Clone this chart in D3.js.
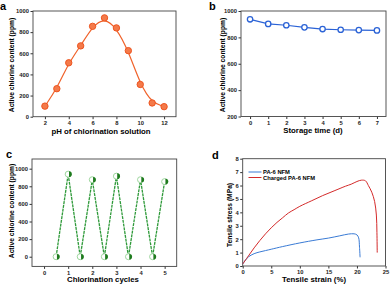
<!DOCTYPE html>
<html>
<head>
<meta charset="utf-8">
<script src="https://cdn.jsdelivr.net/npm/d3@7"></script>
<style>
  body { margin: 0; background: #fff; }
  svg { font-family: "Liberation Sans", Arial, sans-serif; font-weight: bold; }
  .tick text { font-size: 5.8px; fill: #222; }
  .tick line { stroke: #333; }
</style>
</head>
<body>
<div id="chart"></div>
<script>

// 1. Data

const phValues = [2, 3, 4, 5, 6, 7, 8, 9, 10, 11, 12]
const phChlorine = [100, 265, 510, 670, 855, 935, 840, 625, 305, 130, 95]

const storageDays = [0, 1, 2, 3, 4, 5, 6, 7]
const storageChlorine = [937, 902, 892, 876, 863, 858, 855, 853]

const cycleSteps = [0.5, 1, 1.5, 2, 2.5, 3, 3.5, 4, 4.5, 5]
const cycleChlorine = [0, 938, 0, 875, 0, 915, 0, 875, 0, 853]

const pa6Strain = [0, 0.5, 1, 2, 3, 4, 5, 7, 10, 13, 15, 17, 18.5, 19.5, 20, 20.3, 20.45, 20.55]
const pa6Stress = [0.15, 0.45, 0.68, 0.92, 1.05, 1.15, 1.25, 1.45, 1.72, 1.95, 2.08, 2.25, 2.38, 2.4, 2.32, 2.1, 1.4, 0.65]

const chargedStrain = [0, 1, 2, 3, 4, 5, 6, 7, 8, 9, 10, 12, 14, 16, 18, 19, 20, 20.8, 21.5, 22, 22.6, 23.1, 23.4, 23.5, 23.55]
const chargedStress = [0.15, 0.75, 1.35, 1.9, 2.4, 2.85, 3.25, 3.6, 3.95, 4.2, 4.45, 4.85, 5.25, 5.6, 5.95, 6.1, 6.3, 6.4, 6.35, 6.0, 5.5, 4.8, 3.8, 2.5, 1.0]

const legendLabels = ["PA-6 NFM", "Charged PA-6 NFM"]

// 2. Canvas

const svg = d3.select("#chart")
  .append("svg")
    .attr("width", 392)
    .attr("height", 286)

const fmt = d3.format("d")

function panel(opts) {
  const x = d3.scaleLinear().domain(opts.xDomain).range(opts.xRange)
  const y = d3.scaleLinear().domain(opts.yDomain).range(opts.yRange)
  const g = svg.append("g")

  g.append("g")
      .attr("transform", `translate(0,${opts.yRange[0]})`)
      .call(d3.axisBottom(x).tickValues(opts.xTicks).tickFormat(fmt).tickSize(2.5).tickPadding(1.8))
      .call(a => a.select(".domain").remove())

  g.append("g")
      .attr("transform", `translate(${opts.xRange[0]},0)`)
      .call(d3.axisLeft(y).tickValues(opts.yTicks).tickFormat(fmt).tickSize(2.5).tickPadding(1.5))
      .call(a => a.select(".domain").remove())

  g.append("rect")
      .attr("x", opts.xRange[0])
      .attr("y", opts.yRange[1])
      .attr("width", opts.xRange[1] - opts.xRange[0])
      .attr("height", opts.yRange[0] - opts.yRange[1])
      .attr("fill", "none")
      .attr("stroke", "#444")
      .attr("stroke-width", 0.9)

  g.append("text")
      .attr("x", opts.xLabelPos[0])
      .attr("y", opts.xLabelPos[1])
      .attr("text-anchor", "middle")
      .style("font-size", "7.8px")
      .text(opts.xLabel)

  g.append("text")
      .attr("transform", `translate(${opts.yLabelPos[0]},${opts.yLabelPos[1]}) rotate(-90)`)
      .attr("text-anchor", "middle")
      .style("font-size", "6.7px")
      .text(opts.yLabel)

  g.append("text")
      .attr("x", opts.letterPos[0])
      .attr("y", opts.letterPos[1])
      .style("font-size", "11px")
      .text(opts.letter)

  return {g, x, y}
}

// 3. Panel a

const pa = panel({
  xDomain: [1, 13], xRange: [33, 176], xTicks: [2, 4, 6, 8, 10, 12],
  yDomain: [0, 1000], yRange: [116.7, 11], yTicks: [0, 200, 400, 600, 800, 1000],
  xLabel: "pH of chlorination solution", xLabelPos: [101, 133.5],
  yLabel: "Active chlorine content (ppm)", yLabelPos: [13.5, 65],
  letter: "a", letterPos: [0, 9.5],
})

pa.g.append("path")
    .datum(phValues.map((d, i) => [d, phChlorine[i]]))
    .attr("fill", "none")
    .attr("stroke", "#f0622a")
    .attr("stroke-width", 1.2)
    .attr("d", d3.line().x(d => pa.x(d[0])).y(d => pa.y(d[1])).curve(d3.curveBasis))

pa.g.selectAll(".pt-a")
  .data(phValues)
  .enter().append("circle")
    .attr("cx", d => pa.x(d))
    .attr("cy", (d, i) => pa.y(phChlorine[i]))
    .attr("r", 3.2)
    .attr("fill", "#f47a4a")
    .attr("stroke", "#ee5520")
    .attr("stroke-width", 1)

// 4. Panel b

const pb = panel({
  xDomain: [-0.5, 7.5], xRange: [241, 386], xTicks: storageDays,
  yDomain: [200, 1000], yRange: [116.5, 11], yTicks: [200, 400, 600, 800, 1000],
  xLabel: "Storage time (d)", xLabelPos: [313, 132.5],
  yLabel: "Active chlorine content (ppm)", yLabelPos: [224.5, 65],
  letter: "b", letterPos: [209, 10],
})

pb.g.append("path")
    .datum(storageDays.map((d, i) => [d, storageChlorine[i]]))
    .attr("fill", "none")
    .attr("stroke", "#2a62d6")
    .attr("stroke-width", 1.2)
    .attr("d", d3.line().x(d => pb.x(d[0])).y(d => pb.y(d[1])))

pb.g.selectAll(".pt-b")
  .data(storageDays)
  .enter().append("circle")
    .attr("cx", d => pb.x(d))
    .attr("cy", (d, i) => pb.y(storageChlorine[i]))
    .attr("r", 2.7)
    .attr("fill", "#fff")
    .attr("stroke", "#2a62d6")
    .attr("stroke-width", 1.3)

// 5. Panel c

const pc = panel({
  xDomain: [-0.5, 5.5], xRange: [32, 176.7], xTicks: [0, 1, 2, 3, 4, 5],
  yDomain: [-110, 1110], yRange: [266.4, 159], yTicks: [0, 200, 400, 600, 800, 1000],
  xLabel: "Chlorination cycles", xLabelPos: [103, 281.5],
  yLabel: "Active chlorine content (ppm)", yLabelPos: [13.5, 211],
  letter: "c", letterPos: [6, 158],
})

pc.g.append("path")
    .datum(cycleSteps.map((d, i) => [d, cycleChlorine[i]]))
    .attr("fill", "none")
    .attr("stroke", "#2f9a3a")
    .attr("stroke-width", 1.3)
    .attr("stroke-dasharray", "3,0.8")
    .attr("d", d3.line().x(d => pc.x(d[0])).y(d => pc.y(d[1])))

const cMarks = pc.g.selectAll(".pt-c")
  .data(cycleSteps)
  .enter().append("g")
    .attr("transform", (d, i) => `translate(${pc.x(d)},${pc.y(cycleChlorine[i])})`)

cMarks.append("circle")
    .attr("r", 3)
    .attr("fill", "#fff")
    .attr("stroke", "#9ed69e")
    .attr("stroke-width", 1)

cMarks.append("path")
    .attr("d", d3.arc().innerRadius(0).outerRadius(2.8).startAngle(0).endAngle(Math.PI))
    .attr("transform", "translate(0.8,0)")
    .attr("fill", "#1e7a1e")

// 6. Panel d

const curveLine = d3.line().x(d => pd.x(d[0])).y(d => pd.y(d[1])).curve(d3.curveCatmullRom)

const pd = panel({
  xDomain: [0, 25], xRange: [242.7, 385.5], xTicks: [0, 5, 10, 15, 20, 25],
  yDomain: [0, 8], yRange: [266, 158.7], yTicks: d3.range(0, 9),
  xLabel: "Tensile strain (%)", xLabelPos: [314, 282],
  yLabel: "Tensile stress (MPa)", yLabelPos: [231.5, 215],
  letter: "d", letterPos: [212, 159],
})

pd.g.append("path")
    .datum(pa6Strain.map((d, i) => [d, pa6Stress[i]]))
    .attr("fill", "none")
    .attr("stroke", "#3a7bd5")
    .attr("stroke-width", 1)
    .attr("d", curveLine)

pd.g.append("path")
    .datum(chargedStrain.map((d, i) => [d, chargedStress[i]]))
    .attr("fill", "none")
    .attr("stroke", "#d42a2a")
    .attr("stroke-width", 1)
    .attr("d", curveLine)

const legendColors = ["#3a7bd5", "#d42a2a"]
const legend = pd.g.selectAll(".legend")
  .data(legendLabels)
  .enter().append("g")
    .attr("transform", (d, i) => `translate(248.5,${172 + i * 5.5})`)

legend.append("line")
    .attr("x2", 13)
    .attr("stroke", (d, i) => legendColors[i])
    .attr("stroke-width", 1)

legend.append("text")
    .attr("x", 14.5)
    .attr("y", 2)
    .style("font-size", "5.8px")
    .text(d => d)

</script>
</body>
</html>
